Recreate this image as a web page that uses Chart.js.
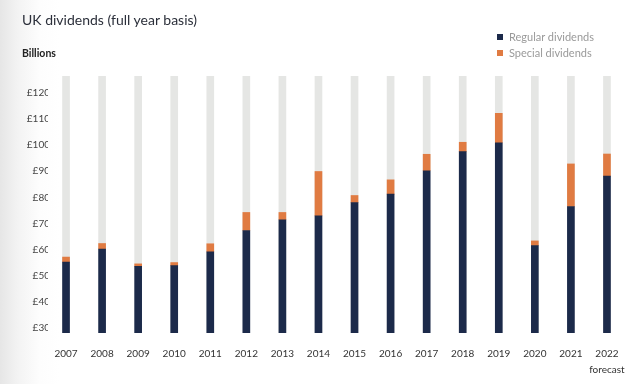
<!DOCTYPE html>
<html lang="en">
<head>
<meta charset="UTF-8">
<title>UK dividends</title>
<script src="https://cdn.jsdelivr.net/npm/chart.js"></script>
<style>
    html, body {
        margin: 0;
        padding: 0;
    }
    body {
        width: 640px;
        height: 384px;
        position: relative;
        overflow: hidden;
        font-family: 'Lato', sans-serif;
        background: linear-gradient(to right, #e6e6e6 0px, #f3f3f3 18px, #fdfdfd 40px, #ffffff 60px);
    }
    #wrap {
        position: absolute;
        left: 0;
        top: 0;
        width: 640px;
        height: 384px;
    }
    .title {
        position: absolute;
        left: 22px;
        top: 10px;
        font-size: 14px;
        line-height: 20px;
        color: #2b2f3a;
    }
    .unit {
        position: absolute;
        left: 22px;
        top: 45px;
        font-size: 10.5px;
        line-height: 16px;
        font-weight: 700;
        color: #222;
    }
    .legend {
        position: absolute;
        left: 497px;
        top: 29px;
        font-size: 11px;
        color: #9a9a9a;
    }
    .legend div {
        height: 15.6px;
        line-height: 15.6px;
    }
    .legend span {
        display: inline-block;
        width: 6px;
        height: 6px;
        margin-right: 6px;
        vertical-align: 1px;
    }
</style>
</head>
<body>
<div id="wrap"><canvas id="chart"></canvas></div>
<div class="title">UK dividends (full year basis)</div>
<div class="unit">Billions</div>
<div class="legend">
    <div><span style="background:#1c2a4a"></span>Regular dividends</div>
    <div><span style="background:#e07b42"></span>Special dividends</div>
</div>

<script>
    var years = ['2007', '2008', '2009', '2010', '2011', '2012', '2013', '2014',
                 '2015', '2016', '2017', '2018', '2019', '2020', '2021', ['2022', 'forecast']];
    var regular = [55.2, 60.2, 53.6, 53.8, 59.1, 67.3, 71.4, 72.9, 78.0, 81.2, 90.2, 97.5, 100.9, 61.5, 76.5, 88.1];
    var special = [1.9, 2.1, 0.9, 1.2, 3.1, 6.9, 2.8, 17.0, 2.7, 5.5, 6.3, 3.6, 11.3, 1.8, 16.3, 8.5];
    var yTicks = [30, 40, 50, 60, 70, 80, 90, 100, 110, 120];
    var yMin = 28;
    var yMax = 126.5;
    // grey track behind each bar, full height of the axis
    var track = years.map(function () { return yMax; });

    Chart.defaults.font.family = "'Lato', sans-serif";

    var ctx = document.getElementById('chart').getContext('2d');
    new Chart(ctx, {
        type: 'bar',
        data: {
            labels: years,
            datasets: [{
                label: 'Regular dividends',
                data: regular,
                backgroundColor: '#1c2a4a',
                stack: 'main',
                order: 1
            }, {
                label: 'Special dividends',
                data: special,
                backgroundColor: '#e07b42',
                stack: 'main',
                order: 1
            }, {
                label: 'track',
                data: track,
                backgroundColor: '#e5e6e4',
                stack: 'bg',
                order: 2
            }]
        },
        options: {
            responsive: true,
            maintainAspectRatio: false,
            animation: false,
            datasets: {
                bar: { grouped: false, barThickness: 7 }
            },
            layout: {
                padding: { left: 0, right: 15, top: 76, bottom: 6 }
            },
            plugins: {
                legend: { display: false },
                tooltip: { enabled: false }
            },
            scales: {
                x: {
                    grid: { display: false, drawTicks: false },
                    border: { display: false },
                    afterFit: function (scale) {
                        scale.height = 45;
                    },
                    ticks: {
                        color: '#333',
                        padding: 13,
                        font: { size: 10, lineHeight: 1.6 },
                        maxRotation: 0,
                        autoSkip: false
                    }
                },
                y: {
                    stacked: true,
                    min: yMin,
                    max: yMax,
                    grid: { display: false, drawTicks: false },
                    border: { display: false },
                    afterBuildTicks: function (scale) {
                        scale.ticks = yTicks.map(function (v) { return { value: v }; });
                    },
                    afterFit: function (scale) {
                        scale.width = 48;
                    },
                    ticks: {
                        color: '#444',
                        padding: -2,
                        font: { size: 10 },
                        callback: function (v) { return '£' + v; }
                    }
                }
            }
        }
    });
</script>
</body>
</html>
